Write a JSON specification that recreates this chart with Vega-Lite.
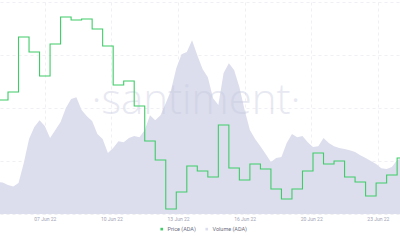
{
  "$schema": "https://vega.github.io/schema/vega-lite/v6.json",
  "width": 400,
  "height": 212,
  "autosize": {"type": "none"},
  "padding": {"left": 0, "top": 2, "right": 0, "bottom": 26},
  "background": "white",
  "config": {
    "view": {"stroke": null},
    "font": "Roboto",
    "legend": {"symbolType": "square"}
  },
  "datasets": {
    "volume": [
      {"t": "2022-06-05T03:00", "volume": 121}, {"t": "2022-06-05T09:00", "volume": 119}, {"t": "2022-06-05T15:00", "volume": 109}, {"t": "2022-06-05T21:00", "volume": 104},
      {"t": "2022-06-06T03:00", "volume": 117}, {"t": "2022-06-06T09:00", "volume": 192}, {"t": "2022-06-06T15:00", "volume": 283}, {"t": "2022-06-06T21:00", "volume": 328},
      {"t": "2022-06-07T03:00", "volume": 354}, {"t": "2022-06-07T09:00", "volume": 332}, {"t": "2022-06-07T15:00", "volume": 287}, {"t": "2022-06-07T21:00", "volume": 317},
      {"t": "2022-06-08T03:00", "volume": 347}, {"t": "2022-06-08T09:00", "volume": 400}, {"t": "2022-06-08T15:00", "volume": 434}, {"t": "2022-06-08T21:00", "volume": 441},
      {"t": "2022-06-09T03:00", "volume": 392}, {"t": "2022-06-09T09:00", "volume": 369}, {"t": "2022-06-09T15:00", "volume": 351}, {"t": "2022-06-09T21:00", "volume": 302},
      {"t": "2022-06-10T03:00", "volume": 283}, {"t": "2022-06-10T09:00", "volume": 230}, {"t": "2022-06-10T15:00", "volume": 249}, {"t": "2022-06-10T21:00", "volume": 275},
      {"t": "2022-06-11T03:00", "volume": 271}, {"t": "2022-06-11T09:00", "volume": 287}, {"t": "2022-06-11T15:00", "volume": 294}, {"t": "2022-06-11T21:00", "volume": 290},
      {"t": "2022-06-12T03:00", "volume": 317}, {"t": "2022-06-12T09:00", "volume": 373}, {"t": "2022-06-12T15:00", "volume": 354}, {"t": "2022-06-12T21:00", "volume": 373},
      {"t": "2022-06-13T03:00", "volume": 418}, {"t": "2022-06-13T09:00", "volume": 467}, {"t": "2022-06-13T15:00", "volume": 550}, {"t": "2022-06-13T21:00", "volume": 603},
      {"t": "2022-06-14T03:00", "volume": 611}, {"t": "2022-06-14T09:00", "volume": 656}, {"t": "2022-06-14T15:00", "volume": 599}, {"t": "2022-06-14T21:00", "volume": 547},
      {"t": "2022-06-15T03:00", "volume": 516}, {"t": "2022-06-15T09:00", "volume": 437}, {"t": "2022-06-15T15:00", "volume": 411}, {"t": "2022-06-15T21:00", "volume": 532},
      {"t": "2022-06-16T03:00", "volume": 569}, {"t": "2022-06-16T09:00", "volume": 543}, {"t": "2022-06-16T15:00", "volume": 479}, {"t": "2022-06-16T21:00", "volume": 392},
      {"t": "2022-06-17T03:00", "volume": 317}, {"t": "2022-06-17T09:00", "volume": 283}, {"t": "2022-06-17T15:00", "volume": 256}, {"t": "2022-06-17T21:00", "volume": 226},
      {"t": "2022-06-18T03:00", "volume": 196}, {"t": "2022-06-18T09:00", "volume": 211}, {"t": "2022-06-18T15:00", "volume": 215}, {"t": "2022-06-18T21:00", "volume": 268},
      {"t": "2022-06-19T03:00", "volume": 302}, {"t": "2022-06-19T09:00", "volume": 290}, {"t": "2022-06-19T15:00", "volume": 294}, {"t": "2022-06-19T21:00", "volume": 271},
      {"t": "2022-06-20T03:00", "volume": 253}, {"t": "2022-06-20T09:00", "volume": 256}, {"t": "2022-06-20T15:00", "volume": 287}, {"t": "2022-06-20T21:00", "volume": 268},
      {"t": "2022-06-21T03:00", "volume": 256}, {"t": "2022-06-21T09:00", "volume": 249}, {"t": "2022-06-21T15:00", "volume": 245}, {"t": "2022-06-21T21:00", "volume": 241},
      {"t": "2022-06-22T03:00", "volume": 234}, {"t": "2022-06-22T09:00", "volume": 222}, {"t": "2022-06-22T15:00", "volume": 211}, {"t": "2022-06-22T21:00", "volume": 200},
      {"t": "2022-06-23T03:00", "volume": 189}, {"t": "2022-06-23T09:00", "volume": 173}, {"t": "2022-06-23T15:00", "volume": 170}, {"t": "2022-06-23T21:00", "volume": 177},
      {"t": "2022-06-24T03:00", "volume": 204}, {"t": "2022-06-24T09:00", "volume": 211}
    ],
    "price": [
      {"t": "2022-06-05T03:00", "price": 0.5583}, {"t": "2022-06-05T15:00", "price": 0.5666},
      {"t": "2022-06-06T03:00", "price": 0.6237}, {"t": "2022-06-06T15:00", "price": 0.6081},
      {"t": "2022-06-07T03:00", "price": 0.5832}, {"t": "2022-06-07T15:00", "price": 0.6164},
      {"t": "2022-06-08T03:00", "price": 0.6444}, {"t": "2022-06-08T15:00", "price": 0.6413},
      {"t": "2022-06-09T03:00", "price": 0.6424}, {"t": "2022-06-09T15:00", "price": 0.6320},
      {"t": "2022-06-10T03:00", "price": 0.6143}, {"t": "2022-06-10T15:00", "price": 0.5739},
      {"t": "2022-06-11T03:00", "price": 0.5780}, {"t": "2022-06-11T15:00", "price": 0.5521},
      {"t": "2022-06-12T03:00", "price": 0.5157}, {"t": "2022-06-12T15:00", "price": 0.4960},
      {"t": "2022-06-13T03:00", "price": 0.4452}, {"t": "2022-06-13T15:00", "price": 0.4628},
      {"t": "2022-06-14T03:00", "price": 0.4898}, {"t": "2022-06-14T15:00", "price": 0.4846},
      {"t": "2022-06-15T03:00", "price": 0.4784}, {"t": "2022-06-15T15:00", "price": 0.5324},
      {"t": "2022-06-16T03:00", "price": 0.4877}, {"t": "2022-06-16T15:00", "price": 0.4753},
      {"t": "2022-06-17T03:00", "price": 0.4919}, {"t": "2022-06-17T15:00", "price": 0.4867},
      {"t": "2022-06-18T03:00", "price": 0.4659}, {"t": "2022-06-18T15:00", "price": 0.4556},
      {"t": "2022-06-19T03:00", "price": 0.4659}, {"t": "2022-06-19T15:00", "price": 0.4846},
      {"t": "2022-06-20T03:00", "price": 0.5033}, {"t": "2022-06-20T15:00", "price": 0.4919},
      {"t": "2022-06-21T03:00", "price": 0.4950}, {"t": "2022-06-21T15:00", "price": 0.4784},
      {"t": "2022-06-22T03:00", "price": 0.4732}, {"t": "2022-06-22T15:00", "price": 0.4587},
      {"t": "2022-06-23T03:00", "price": 0.4722}, {"t": "2022-06-23T15:00", "price": 0.4805},
      {"t": "2022-06-24T03:00", "price": 0.4981}, {"t": "2022-06-24T15:00", "price": 0.4981}
    ],
    "mark": [
      {"t": "2022-06-14T13:30", "volume": 425, "label": "·santiment·"}
    ]
  },
  "encoding": {
    "x": {
      "field": "t",
      "type": "temporal",
      "scale": {
        "domain": [
          {"year": 2022, "month": 6, "date": 5, "hours": 5, "minutes": 52},
          {"year": 2022, "month": 6, "date": 24, "hours": 6, "minutes": 16}
        ],
        "nice": false
      },
      "axis": {
        "title": null,
        "values": [
          {"year": 2022, "month": 6, "date": 7, "hours": 9},
          {"year": 2022, "month": 6, "date": 10, "hours": 13},
          {"year": 2022, "month": 6, "date": 13, "hours": 17},
          {"year": 2022, "month": 6, "date": 16, "hours": 21},
          {"year": 2022, "month": 6, "date": 20, "hours": 1},
          {"year": 2022, "month": 6, "date": 23, "hours": 5}
        ],
        "format": "%d %b %y",
        "grid": true,
        "gridDash": [3, 3],
        "gridColor": "#ebebf1",
        "gridWidth": 0.8,
        "ticks": false,
        "domain": false,
        "labelFontSize": 5,
        "labelColor": "#a3a5b6",
        "labelPadding": 2,
        "labelFlush": false,
        "labelOverlap": false
      }
    }
  },
  "layer": [
    {
      "layer": [
        {
          "data": {"name": "volume"},
          "mark": {"type": "area", "clip": true, "opacity": 1},
          "encoding": {
            "y": {
              "field": "volume",
              "type": "quantitative",
              "scale": {"domain": [0, 800], "nice": false},
              "axis": {
                "title": null,
                "labels": false,
                "ticks": false,
                "domain": false,
                "values": [0, 100, 200, 300, 400, 500, 600, 700, 800],
                "grid": true,
                "gridDash": [3, 3],
                "gridColor": "#ebebf1",
                "gridWidth": 0.8
              }
            },
            "color": {
              "datum": "Volume (ADA)",
              "type": "nominal",
              "scale": {"domain": ["Price (ADA)", "Volume (ADA)"], "range": ["#3fcc68", "#dcdeed"]},
              "legend": {
                "title": null,
                "orient": "none",
                "direction": "horizontal",
                "legendX": 159,
                "legendY": 224,
                "symbolType": "square",
                "symbolSize": 7,
                "symbolStrokeWidth": 0,
                "labelFontSize": 5.5,
                "labelColor": "#6b6d80",
                "labelOffset": 3,
                "columnPadding": 8
              }
            }
          }
        },
        {
          "data": {"name": "mark"},
          "mark": {"type": "text", "fontSize": 42, "fontWeight": 300, "font": "Open Sans", "color": "#c5c8de", "opacity": 0.4, "baseline": "middle", "align": "center"},
          "encoding": {
            "y": {"field": "volume", "type": "quantitative"},
            "text": {"field": "label"}
          }
        }
      ]
    },
    {
      "data": {"name": "price"},
      "mark": {"type": "line", "interpolate": "step-after", "strokeWidth": 1.1, "clip": true},
      "encoding": {
        "y": {"field": "price", "type": "quantitative", "scale": {"domain": [0.44, 0.66], "zero": false, "nice": false}, "axis": null},
        "color": {
          "datum": "Price (ADA)",
          "type": "nominal",
          "legend": {
            "title": null,
            "orient": "none",
            "direction": "horizontal",
            "legendX": 159,
            "legendY": 224,
            "symbolType": "square",
            "symbolSize": 7,
            "symbolStrokeWidth": 0,
            "labelFontSize": 5.5,
            "labelColor": "#6b6d80",
            "labelOffset": 3,
            "columnPadding": 8
          }
        }
      }
    }
  ],
  "resolve": {"scale": {"y": "independent"}}
}
